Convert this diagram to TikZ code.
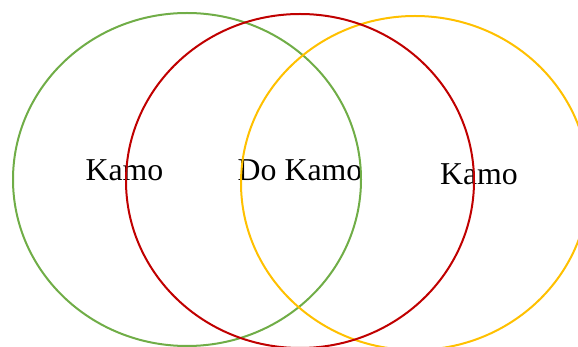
\documentclass[tikz,border=0pt]{standalone}
\usepackage{fontspec}
\setmainfont{Liberation Serif}
\definecolor{vgreen}{HTML}{70AD47}
\definecolor{vred}{HTML}{C00000}
\definecolor{vyellow}{HTML}{FFC000}
\begin{document}
\begin{tikzpicture}[x=1pt,y=-1pt,
  lbl/.style={anchor=base,inner sep=0pt,font=\fontsize{31.8}{38}\selectfont},
  ring/.style={line width=2pt}]
\useasboundingbox (0,0) rectangle (578,347);
\clip (0,0) rectangle (578,347);
\node[lbl] (l) at (124.5,180.5) {Kamo};
\node[lbl] (m) at (300,181) {Do Kamo};
\node[lbl] (r) at (479,185) {Kamo};
\draw[ring,vgreen] (187,179.5) ellipse [x radius=174, y radius=166.5];
\draw[ring,vyellow] (415,183) ellipse [x radius=174, y radius=167];
\draw[ring,vred] (300,181) ellipse [x radius=174, y radius=167];
\end{tikzpicture}
\end{document}
